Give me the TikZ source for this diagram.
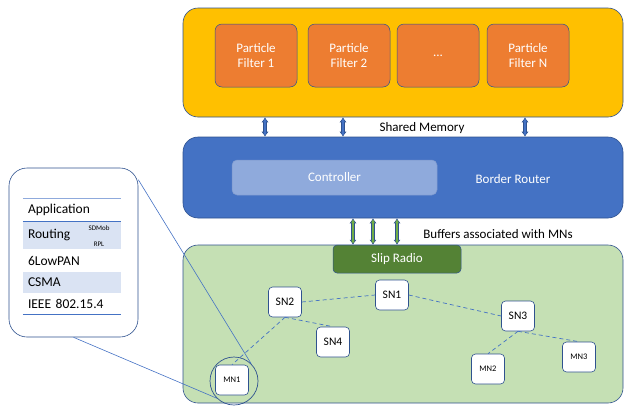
\documentclass[tikz,border=0pt]{standalone}
\usepackage{fontspec}
\setmainfont{Carlito}
\usetikzlibrary{arrows.meta}

\definecolor{ylwfill}{HTML}{FFC000}
\definecolor{pffill}{HTML}{ED7D31}
\definecolor{brfill}{HTML}{4472C4}
\definecolor{ctlfill}{HTML}{8FAADC}
\definecolor{netfill}{HTML}{C5E0B4}
\definecolor{slipfill}{HTML}{548235}
\definecolor{edgeblue}{HTML}{2F528F}
\definecolor{rowfill}{HTML}{DAE3F3}
\definecolor{linkblue}{HTML}{4472C4}
\definecolor{busgreen}{HTML}{70AD47}

\begin{document}
\begin{tikzpicture}[
    x=1pt,
    y=-1pt,
    panel/.style={
        draw=edgeblue,
        line width=0.6pt,
        rounded corners=15pt,
        inner sep=0pt
    },
    block/.style={
        draw=edgeblue,
        line width=0.5pt,
        rounded corners=7pt,
        text=white,
        align=center,
        font=\fontsize{13}{15}\selectfont
    },
    sensor/.style={
        draw=edgeblue,
        fill=white,
        line width=0.6pt,
        rounded corners=4pt,
        minimum width=33pt,
        minimum height=30pt,
        font=\fontsize{11.5}{13}\selectfont
    },
    mobile/.style={
        sensor,
        font=\fontsize{8.5}{10}\selectfont
    },
    link/.style={
        draw=linkblue,
        line width=0.7pt,
        dash pattern=on 4pt off 3pt
    },
    row/.style={
        minimum width=98pt,
        text width=88pt,
        inner xsep=5pt,
        inner ysep=0pt,
        align=left,
        font=\fontsize{13.5}{15}\selectfont
    },
    label/.style={
        font=\fontsize{13}{15}\selectfont
    },
    busout/.style={
        {Latex[length=5pt,width=7.5pt]}-{Latex[length=5pt,width=7.5pt]},
        line width=3.4pt,
        draw=edgeblue
    },
    busin/.style={
        {Latex[length=3pt,width=4pt]}-{Latex[length=3pt,width=4pt]},
        line width=1.6pt,
        shorten <=1.2pt,
        shorten >=1.2pt
    },
    zoomline/.style={
        draw=linkblue,
        line width=0.6pt
    }
]
    \useasboundingbox (0,0) rectangle (624,405);

    % Particle filters
    \node[panel, fill=ylwfill, minimum width=440pt, minimum height=109pt] (host) at (403,62.5) {};
    \foreach \i/\x/\lbl in {1/256/1, 2/349/2, 4/528/N}{
        \node[block, fill=pffill, minimum width=82pt, minimum height=63pt] (pf\i) at (\x,55.5) {Particle\\Filter \lbl};
    }
    \node[block, fill=pffill, minimum width=82pt, minimum height=63pt] (pf3) at (438,55.5) {...};

    % Border router
    \node[panel, fill=brfill, minimum width=440pt, minimum height=81pt] (br) at (403,177.5) {};
    \node[block, fill=ctlfill, draw=ctlfill!80!edgeblue, rounded corners=5pt,
          minimum width=205pt, minimum height=35pt] (ctl) at (334.5,177.5) {Controller};
    \node[label, text=white] (brlabel) at (513,179) {Border Router};

    % Shared memory
    \foreach \x in {265,343,525}{
        \draw[busout] (host.south -| \x,0) -- (br.north -| \x,0);
        \draw[busin, draw=brfill, fill=brfill] (host.south -| \x,0) -- (br.north -| \x,0);
    }
    \node[label] (shm) at (422,128) {Shared Memory};

    % Sensor network
    \node[panel, fill=netfill, minimum width=440pt, minimum height=158pt] (net) at (403,324) {};
    \node[block, fill=slipfill, rounded corners=4pt, minimum width=128pt, minimum height=28pt] (slip) at (397,259) {Slip Radio};

    \foreach \x in {353,373,397}{
        \draw[busout] (br.south -| \x,0) -- (slip.north -| \x,0);
        \draw[busin, draw=busgreen, fill=busgreen] (br.south -| \x,0) -- (slip.north -| \x,0);
    }
    \node[label] (buf) at (498,234) {Buffers associated with MNs};

    \node[sensor] (sn1) at (392,295) {SN1};
    \node[sensor] (sn2) at (285,302) {SN2};
    \node[sensor] (sn3) at (518,316) {SN3};
    \node[sensor] (sn4) at (333,342) {SN4};
    \node[mobile] (mn1) at (232,380) {MN1};
    \node[mobile] (mn2) at (488,369) {MN2};
    \node[mobile] (mn3) at (579,357) {MN3};

    \draw[link] (sn2.east) -- (sn1.west);
    \draw[link] (sn1.east) -- (sn3.west);
    \draw[link] (sn2.south) -- (sn4.north);
    \draw[link] (sn2.south) -- (mn1.north);
    \draw[link] (sn3.south) -- (mn2.north);
    \draw[link] (sn3.south) -- (mn3.north);

    \node[circle, draw=edgeblue, line width=0.7pt, minimum size=48pt] (lens) at (234,381) {};

    % Protocol stack
    \node[panel, fill=white, rounded corners=18pt, minimum width=129pt, minimum height=169pt] (stack) at (73.5,252.5) {};
    \node[row, minimum height=22pt] (app) at (72,210) {Application};
    \node[row, fill=rowfill, minimum height=28pt] (rout) at (72,235) {Routing};
    \node[row, minimum height=23pt] (lowpan) at (72,260.5) {6LowPAN};
    \node[row, fill=rowfill, minimum height=21pt] (csma) at (72,282.5) {CSMA};
    \node[row, minimum height=21pt] (phy) at (72,303.5) {IEEE 802.15.4};
    \node[font=\fontsize{7}{8}\selectfont] (sdmob) at (99,228) {SDMob};
    \node[font=\fontsize{7}{8}\selectfont] (rpl) at (99,244) {RPL};

    \draw[draw=ctlfill, line width=0.8pt] (app.north west) -- (app.north east);
    \draw[draw=linkblue, line width=1.2pt] (app.south west) -- (app.south east);
    \draw[draw=linkblue, line width=0.9pt] (phy.south west) -- (phy.south east);

    % Zoom onto MN1
    \draw[zoomline] ([yshift=-12pt]stack.north east) -- (lens.45);
    \draw[zoomline] (stack.south) -- (lens.225);

\end{tikzpicture}
\end{document}
